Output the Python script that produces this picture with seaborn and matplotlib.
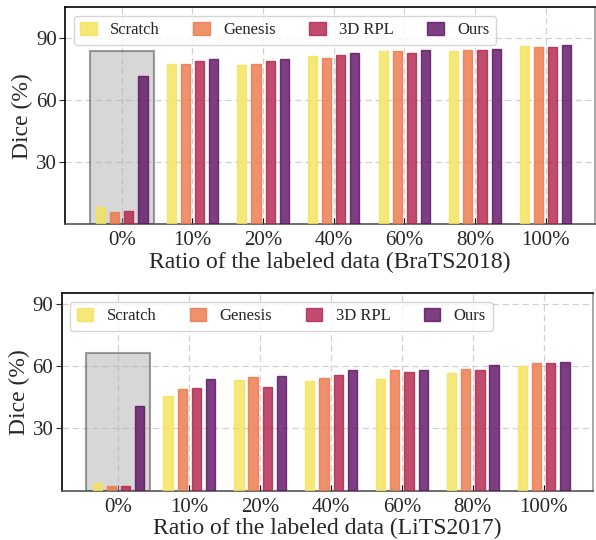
import numpy as np
import pandas as pd
import seaborn as sns
import matplotlib.pyplot as plt
from matplotlib.patches import Rectangle

# Datos
ratios = ['0%', '10%', '20%', '40%', '60%', '80%', '100%']
methods = ['Scratch', 'Genesis', '3D RPL', 'Ours']

brats_scratch = [8.4, 77.4, 77.2, 81.6, 83.7, 83.8, 86.3]
brats_genesis = [6.0, 77.4, 77.7, 80.5, 83.8, 84.2, 85.8]
brats_rpl = [6.6, 79.0, 79.2, 81.9, 82.9, 84.5, 85.8]
brats_ours = [71.7, 80.0, 79.8, 82.9, 84.2, 84.6, 86.8]
brats_box_top = 84.0

lits_scratch = [3.5, 45.5, 53.2, 52.9, 53.7, 56.6, 60.1]
lits_genesis = [2.1, 48.9, 54.5, 54.3, 58.0, 58.8, 61.4]
lits_rpl = [2.1, 49.3, 49.7, 55.6, 57.1, 57.9, 61.4]
lits_ours = [40.9, 53.7, 55.0, 58.0, 58.2, 60.6, 62.0]
lits_box_top = 66.5

colors = ['#f4e356', '#ec7646', '#b2204a', '#5c0f63']

sns.set_style('white')
plt.rcParams['font.family'] = ['Liberation Serif', 'DejaVu Serif']


def make_df(vals):
    rows = []
    for m, v in zip(methods, vals):
        for r, d in zip(ratios, v):
            rows.append({'ratio': r, 'method': m, 'dice': d})
    return pd.DataFrame(rows)


def draw_panel(ax, df, box_top, ylim, xlabel):
    sns.barplot(data=df, x='ratio', y='dice', hue='method', palette=colors,
                saturation=1, gap=0.35, alpha=0.8, linewidth=1.0, ax=ax,
                zorder=3, errorbar=None)
    for p in ax.patches:
        fc = p.get_facecolor()
        p.set_edgecolor(fc[:3])

    ax.set_axisbelow(True)
    ax.grid(True, axis='both', linestyle=(0, (5, 3)), color='#d0d0d0',
            linewidth=0.9)

    # caja gris sobre el grupo 0%
    ax.add_patch(Rectangle((-0.45, 0), 0.9, box_top, facecolor='#b0b0b0',
                           alpha=0.5, edgecolor='#404040', linewidth=1.5, zorder=2))

    ax.set_xlim(-0.8, 6.7)
    ax.set_ylim(0, ylim)
    ax.set_yticks([30, 60, 90])
    ax.set_xlabel(xlabel, fontsize=17, labelpad=1)
    ax.set_ylabel('Dice (%)', fontsize=17, labelpad=2)
    ax.tick_params(axis='x', direction='in', length=4, labelsize=15, pad=5,
                   bottom=True, color='black')
    ax.tick_params(axis='y', direction='out', length=4, labelsize=15, pad=2,
                   left=True)

    for s in ['top', 'left']:
        ax.spines[s].set_color('black')
        ax.spines[s].set_linewidth(1.2)
    ax.spines['bottom'].set_color('#555555')
    ax.spines['bottom'].set_linewidth(1.2)
    ax.spines['right'].set_color('#999999')
    ax.spines['right'].set_linewidth(1.2)

    handles, labels = ax.get_legend_handles_labels()
    ax.get_legend().remove()
    leg = ax.legend(handles, labels, ncol=4, loc='upper left', fontsize=12,
                    handlelength=1.0, handleheight=0.75, handletextpad=0.8,
                    columnspacing=2.0, borderaxespad=0.5, frameon=True,
                    fancybox=True, framealpha=0.8, edgecolor='#cccccc')
    leg.set_zorder(5)


fig = plt.figure(figsize=(5.96, 5.40), dpi=100)
ax1 = fig.add_axes([0.1096, 0.5846, 0.8887, 0.4019])
ax2 = fig.add_axes([0.1035, 0.0913, 0.892, 0.3656])

draw_panel(ax1, make_df([brats_scratch, brats_genesis, brats_rpl, brats_ours]),
           brats_box_top, 105, 'Ratio of the labeled data (BraTS2018)')
draw_panel(ax2, make_df([lits_scratch, lits_genesis, lits_rpl, lits_ours]),
           lits_box_top, 95, 'Ratio of the labeled data (LiTS2017)')

plt.savefig('out.png', dpi=100)
plt.close()
